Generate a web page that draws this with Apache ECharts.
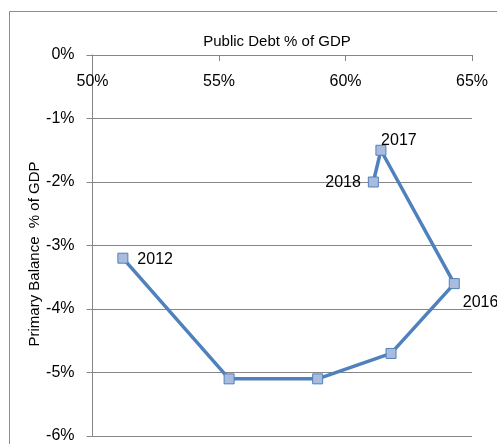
<!DOCTYPE html>
<html>
<head>
<meta charset="utf-8">
<script src="https://cdn.jsdelivr.net/npm/echarts@6/dist/echarts.min.js"></script>
<style>html,body{margin:0;padding:0;background:#fff}#c{width:497px;height:444px}</style>
</head>
<body>
<div id="c"></div>
<script>
const years = ['2012', '2013', '2014', '2015', '2016', '2017', '2018'];
const debtPct = [51.2, 55.4, 58.9, 61.8, 64.3, 61.4, 61.1];
const balancePct = [-3.2, -5.1, -5.1, -4.7, -3.6, -1.5, -2.0];
const labelYears = ['2012', '2016', '2017', '2018'];
const xTicks = [50, 55, 60, 65];
const yTicks = [0, -1, -2, -3, -4, -5, -6];
const yAxisTitle = 'Primary Balance  % of GDP';

const FONT = 'Liberation Sans';
const labelPos = {
  '2012': {position: 'right', offset: [4, 1]},
  '2016': {position: 'right', offset: [-2, 19]},
  '2017': {position: 'top', offset: [18, 9]},
  '2018': {position: 'left', offset: [-2, 1]}
};

const data = years.map((y, i) => {
  const d = {value: [debtPct[i], balancePct[i]], name: y};
  if (labelYears.includes(y)) {
    d.label = Object.assign({show: true, formatter: y, color: '#000', fontSize: 16, fontFamily: FONT}, labelPos[y]);
  }
  return d;
});

const chart = echarts.init(document.getElementById('c'));
chart.setOption({
  animation: false,
  graphic: [{
    type: 'rect', silent: true,
    shape: {x: 9.5, y: 11.5, width: 600, height: 600},
    style: {fill: 'none', stroke: '#8c8c8c', lineWidth: 1}
  }, {
    type: 'text', silent: true,
    x: 35, y: 254, rotation: Math.PI / 2,
    style: {text: yAxisTitle, fontFamily: FONT, fontSize: 15, fill: '#000', align: 'center', verticalAlign: 'middle'}
  }],
  title: {
    text: 'Public Debt % of GDP',
    left: 272, top: 29, textAlign: 'center',
    textStyle: {fontFamily: FONT, fontSize: 15, fontWeight: 'normal', color: '#000'}
  },
  grid: {left: 92.5, right: 25, top: 55, bottom: 7},
  xAxis: {
    type: 'value', position: 'top', min: xTicks[0], max: xTicks[xTicks.length - 1], interval: 5,
    axisLine: {show: true, lineStyle: {color: '#868686', width: 1}},
    axisTick: {show: true, inside: true, length: 6, lineStyle: {color: '#868686'}},
    axisLabel: {inside: true, margin: 19, formatter: '{value}%', color: '#000', fontSize: 16, fontFamily: FONT},
    splitLine: {show: false}
  },
  yAxis: {
    type: 'value', min: yTicks[yTicks.length - 1], max: yTicks[0], interval: 1,
    axisLine: {show: true, lineStyle: {color: '#868686', width: 1}},
    axisTick: {show: true, length: 6, lineStyle: {color: '#868686'}},
    axisLabel: {margin: 18, formatter: '{value}%', color: '#000', fontSize: 16, fontFamily: FONT},
    splitLine: {show: true, lineStyle: {color: '#868686', width: 1}}
  },
  series: [{
    type: 'line', data: data,
    symbol: 'rect', symbolSize: 10,
    lineStyle: {color: '#4F81BD', width: 3.5},
    itemStyle: {color: '#A9BCDD', borderColor: '#4F81BD', borderWidth: 1},
    label: {show: false}
  }]
});
</script>
</body>
</html>
